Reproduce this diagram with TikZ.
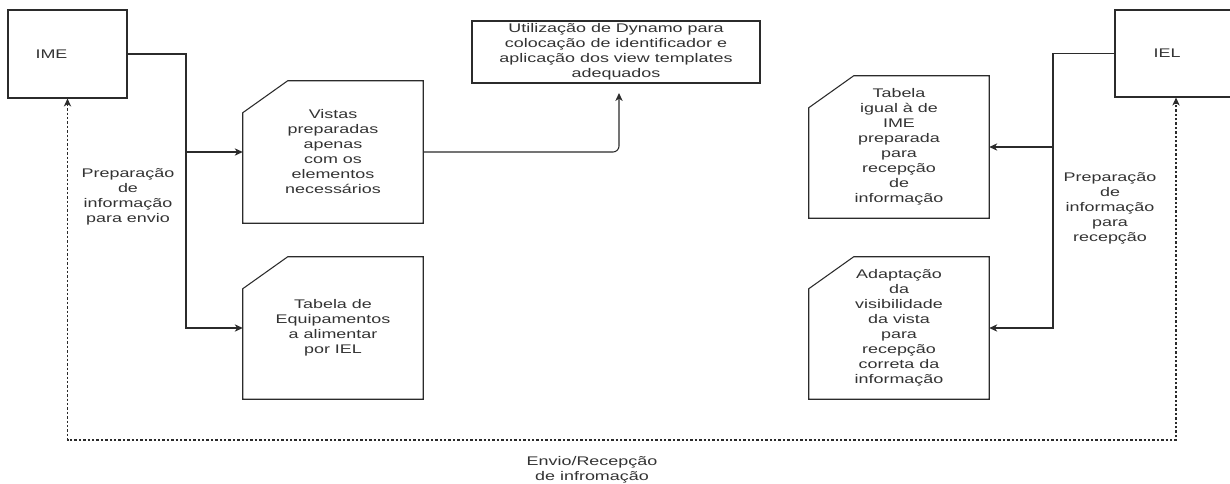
\documentclass[tikz,border=0pt]{standalone}
\usepackage{fontspec}
\newfontfamily\diafont[FakeStretch=1.43]{Liberation Sans}
\usetikzlibrary{arrows.meta}
\definecolor{inkline}{HTML}{2B2B2B}
\definecolor{inktext}{HTML}{333333}
\tikzset{
  txt/.style={font=\diafont\fontsize{9.4}{11.25}\selectfont, text=inktext, align=center},
  plainbox/.style={draw=inkline, line width=0.8pt, inner sep=0pt},
  notebox/.style={inner sep=0pt, minimum width=135pt, minimum height=106.5pt, txt},
  conn/.style={draw=inkline, line width=0.8pt, -{Stealth[length=6pt,width=5.5pt,inset=1.8pt]}},
  dotconn/.style={draw=inkline, line width=0.9pt, dash pattern=on 1.8pt off 1.5pt,
    {Stealth[length=6pt,width=5.5pt,inset=1.8pt]}-{Stealth[length=6pt,width=5.5pt,inset=1.8pt]}},
}
% outline of a box with its upper-left corner cut off
\newcommand{\cutframe}[1]{%
  \draw[draw=inkline, line width=0.8pt]
    ([yshift=-24pt]#1.north west) -- ([xshift=33.75pt]#1.north west)
    -- (#1.north east) -- (#1.south east) -- (#1.south west) -- cycle;}
\begin{document}
\begin{tikzpicture}[x=0.75pt, y=-0.75pt]
  \clip (0,0) rectangle (1230,483);
  \fill[white] (0,0) rectangle (1230,483);

  % end boxes
  \node[plainbox, minimum width=89.25pt, minimum height=66pt,
        label={[txt, xshift=-12pt]center:IME}] (ime) at (67.5,54) {};
  \node[plainbox, minimum width=87pt, minimum height=65.25pt,
        label={[txt, xshift=-4.5pt]center:IEL}] (iel) at (1173,53.5) {};

  % Dynamo step
  \node[plainbox, txt, minimum width=216pt, minimum height=46.5pt] (dyn) at (616,52)
    {Utilização de Dynamo para\\colocação de identificador e\\aplicação dos view templates\\adequados};
  \coordinate (dynin) at (619,93);

  % cut-corner boxes
  \node[notebox] (vis) at (333,152) {Vistas\\preparadas\\apenas\\com os\\elementos\\necessários};
  \node[notebox] (teq) at (333,328) {Tabela de\\Equipamentos\\a alimentar\\por IEL};
  \node[notebox] (tig) at (899,147) {Tabela\\igual à de\\IME\\preparada\\para\\recepção\\de\\informação};
  \node[notebox] (adp) at (899,328) {Adaptação\\da\\visibilidade\\da vista\\para\\recepção\\correta da\\informação};
  \cutframe{vis}
  \cutframe{teq}
  \cutframe{tig}
  \cutframe{adp}

  % free labels
  \node[txt] (lenv) at (128,197) {Preparação\\de\\informação\\para envio};
  \node[txt] (lrec) at (1110,208) {Preparação\\de\\informação\\para\\recepção};
  \node[txt] (lbot) at (592,470) {Envio/Recepção\\de infromação};

  % connectors
  \coordinate (jl) at (186,0);
  \coordinate (jr) at (1053,0);
  \coordinate (bot) at (0,440);
  \draw[conn] (ime.east) -| (jl |- vis.west) -- (vis.west);
  \draw[conn] (ime.east) -| (jl |- teq.west) -- (teq.west);
  \draw[conn, rounded corners=4.5pt] (vis.east) -| (dynin);
  \draw[conn] (iel.west) -| (jr |- tig.east) -- (tig.east);
  \draw[conn] (iel.west) -| (jr |- adp.east) -- (adp.east);
  \draw[dotconn] (ime.south) -- (ime.south |- bot) -| ([xshift=2.25pt]iel.south);
\end{tikzpicture}
\end{document}
